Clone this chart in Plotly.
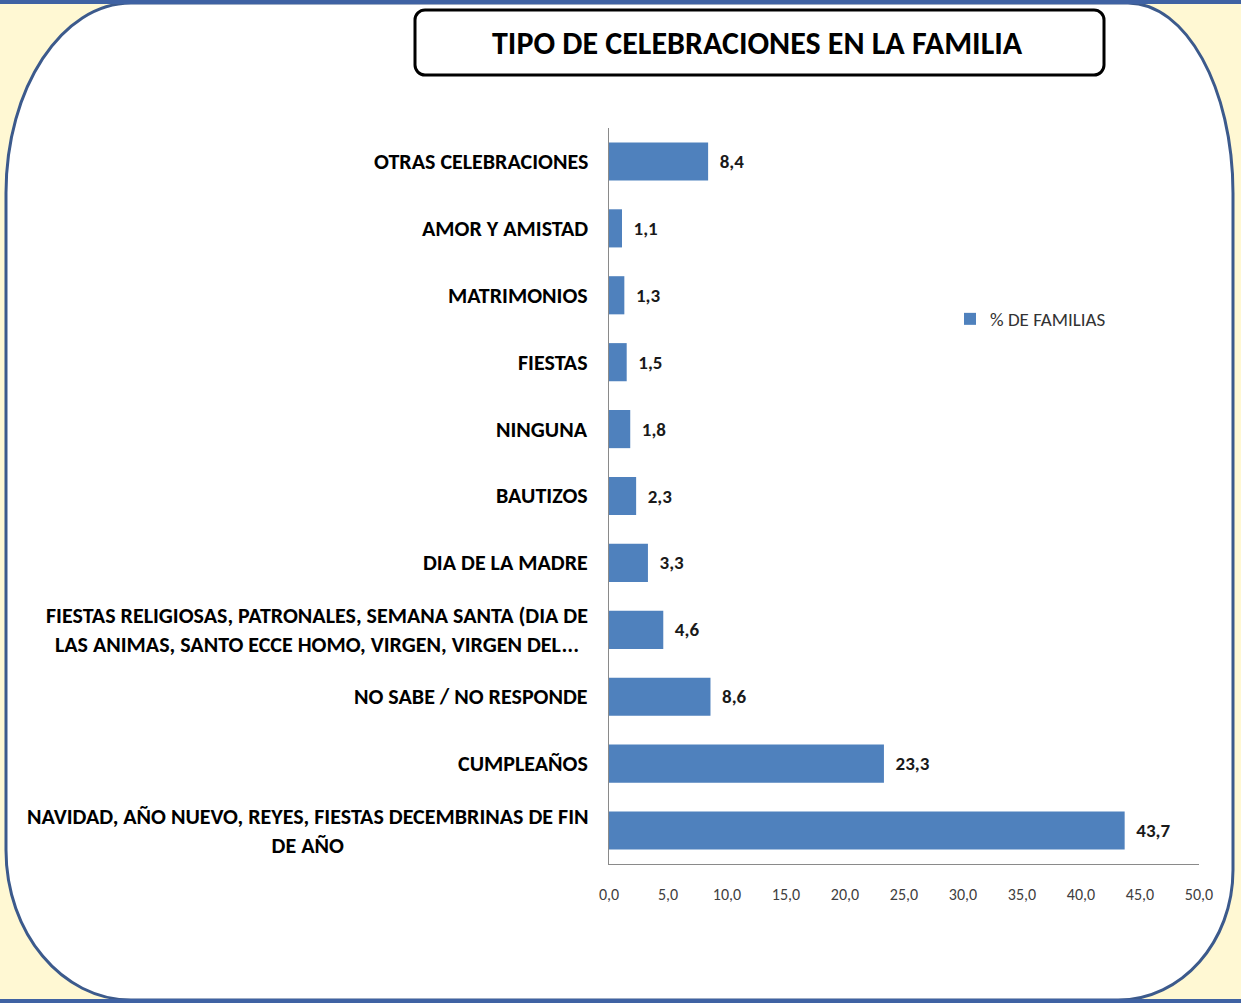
import plotly.graph_objects as go

# ---- data ----
categories = [
    "NAVIDAD, AÑO NUEVO, REYES, FIESTAS DECEMBRINAS DE FIN<br>DE AÑO",
    "CUMPLEAÑOS",
    "NO SABE / NO RESPONDE",
    "FIESTAS RELIGIOSAS, PATRONALES, SEMANA SANTA (DIA DE<br>LAS ANIMAS, SANTO ECCE HOMO, VIRGEN, VIRGEN DEL...",
    "DIA DE LA MADRE",
    "BAUTIZOS",
    "NINGUNA",
    "FIESTAS",
    "MATRIMONIOS",
    "AMOR Y AMISTAD",
    "OTRAS CELEBRACIONES",
]
values = [43.7, 23.3, 8.6, 4.6, 3.3, 2.3, 1.8, 1.5, 1.3, 1.1, 8.4]
x_ticks = [0, 5, 10, 15, 20, 25, 30, 35, 40, 45, 50]
series_name = "% DE FAMILIAS"
title_text = "TIPO DE CELEBRACIONES EN LA FAMILIA"

W, H = 1241, 1003
FONT = "Carlito, Roboto Condensed, sans-serif"
BAR = "#4F81BD"


def P(x, y):
    return x / W, 1 - y / H


def rounded_path(x0, y0, x1, y1, r_tl, r_tr, r_br, r_bl):
    k = 0.5523
    def pt(x, y):
        a, b = P(x, y)
        return f"{a:.5f},{b:.5f}"
    (tlx, tly), (trx, try_), (brx, bry), (blx, bly) = r_tl, r_tr, r_br, r_bl
    d = f"M{pt(x0 + tlx, y0)} L{pt(x1 - trx, y0)} "
    d += f"C{pt(x1 - trx + k*trx, y0)} {pt(x1, y0 + try_ - k*try_)} {pt(x1, y0 + try_)} "
    d += f"L{pt(x1, y1 - bry)} "
    d += f"C{pt(x1, y1 - bry + k*bry)} {pt(x1 - brx + k*brx, y1)} {pt(x1 - brx, y1)} "
    d += f"L{pt(x0 + blx, y1)} "
    d += f"C{pt(x0 + blx - k*blx, y1)} {pt(x0, y1 - bly + k*bly)} {pt(x0, y1 - bly)} "
    d += f"L{pt(x0, y0 + tly)} "
    d += f"C{pt(x0, y0 + tly - k*tly)} {pt(x0 + tlx - k*tlx, y0)} {pt(x0 + tlx, y0)} Z"
    return d


fig = go.Figure()
fig.add_trace(go.Bar(
    y=categories, x=values, orientation="h", name=series_name,
    marker=dict(color=BAR, line=dict(width=0)),
    texttemplate="\u00a0\u00a0%{x:.1f}", textposition="outside",
    textfont=dict(family=FONT, size=19, color="#1a1a1a", weight="bold"),
    cliponaxis=False, showlegend=True,
))

shapes = []
# outer rounded white panel
shapes.append(dict(type="path", xref="paper", yref="paper", layer="below",
                   path=rounded_path(6, 3, 1233, 1000, (125, 190), (105, 190), (115, 130), (125, 150)),
                   fillcolor="white", line=dict(color="#3C5A8C", width=3)))
# top and bottom blue bands
for yy0, yy1 in [(0, 4), (999, 1003)]:
    a0, b0 = P(0, yy0); a1, b1 = P(W, yy1)
    shapes.append(dict(type="rect", xref="paper", yref="paper", layer="below",
                       x0=a0, y0=b1, x1=a1, y1=b0, fillcolor="#3F62A3", line=dict(width=0)))
# title box
shapes.append(dict(type="path", xref="paper", yref="paper", layer="below",
                   path=rounded_path(415, 10, 1104, 75, (10, 10), (10, 10), (10, 10), (10, 10)),
                   fillcolor="white", line=dict(color="black", width=3)))

annotations = []
tx, ty = P(757, 43)
annotations.append(dict(text="<b>" + title_text + "</b>", x=tx, y=ty, xref="paper", yref="paper",
                        showarrow=False, xanchor="center", yanchor="middle",
                        font=dict(family=FONT, size=32, color="black")))
lx, _ = P(590, 0)
for c in categories:
    annotations.append(dict(text="<b>" + c + "</b>", x=lx, y=c, xref="paper", yref="y",
                            showarrow=False, xanchor="right", yanchor="middle", align="center",
                            font=dict(family=FONT, size=22, color="black")))

x0d, _ = P(609, 0); x1d, _ = P(1199, 0)
_, ytop = P(0, 128); _, ybot = P(0, 864)
lgx, lgy = P(950, 319)

fig.update_layout(
    width=W, height=H, margin=dict(l=0, r=0, t=0, b=0, pad=0, autoexpand=False), autosize=False,
    paper_bgcolor="#FFF8D3", plot_bgcolor="rgba(0,0,0,0)",
    separators=",.",
    bargap=0.43,
    shapes=shapes, annotations=annotations,
    xaxis=dict(domain=[x0d, x1d], range=[0, 50], tickvals=x_ticks,
               tickformat=".1f", showgrid=False, zeroline=False, automargin=False,
               showline=True, linecolor="#8a8a8a", linewidth=1, ticks="",
               ticklabelstandoff=16,
               tickfont=dict(family=FONT, size=16, color="#404040")),
    yaxis=dict(domain=[ybot, ytop], showticklabels=False, showgrid=False, zeroline=False,
               automargin=False,
               showline=True, linecolor="#8a8a8a", linewidth=1, ticks=""),
    legend=dict(x=lgx, y=lgy, xanchor="left", yanchor="middle", bgcolor="rgba(0,0,0,0)",
                font=dict(family=FONT, size=19, color="#333333"), itemwidth=30),
    font=dict(family=FONT),
)

fig.write_html(
    "out.html",
    config={"displayModeBar": False, "responsive": False},
    post_script="document.body.style.margin='0px';document.body.style.overflow='hidden';document.documentElement.style.overflow='hidden';",
)
